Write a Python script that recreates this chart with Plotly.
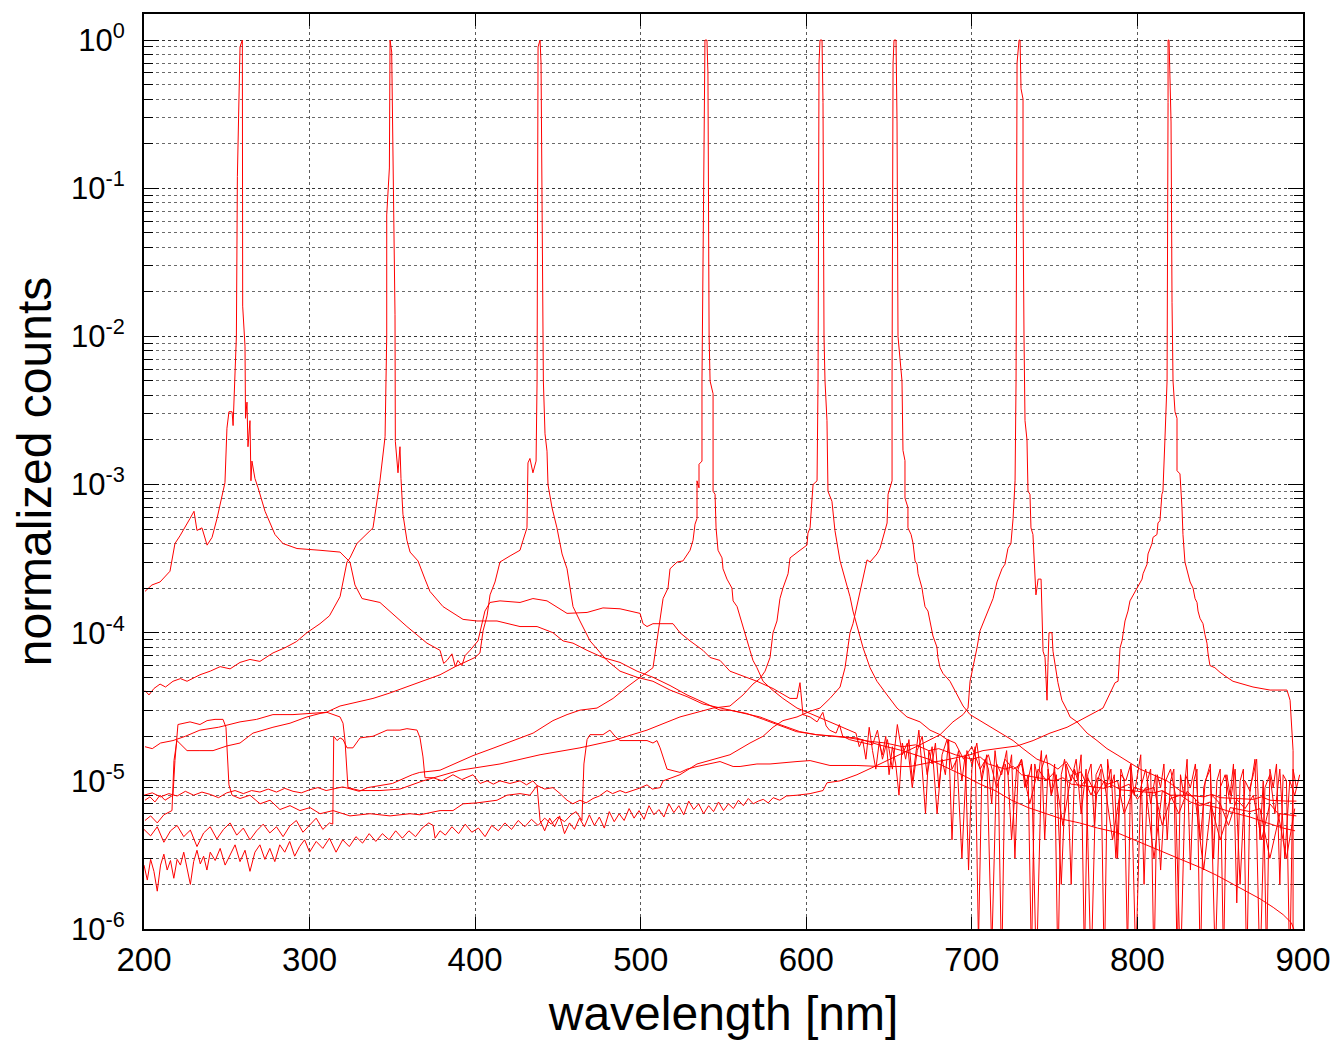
import math
import plotly.graph_objects as go

# ---------------- data (wavelength in nm, normalized counts) ----------------
s1_main = [(200.6,1.9e-4),(204.8,2.1e-4),(209.7,2.2e-4),(215.7,2.6e-4),(218.7,4.0e-4),(221.7,4.5e-4),
    (227.8,5.9e-4),(230.2,6.6e-4),(232.0,4.9e-4),(235.0,5.1e-4),(238.1,3.9e-4),(241.1,4.4e-4),(244.1,5.9e-4),
    (247.1,8.6e-4),(248.9,1.03e-3),(250.1,2.4e-3),(251.3,3.1e-3),(253.2,3.1e-3),(253.8,2.5e-3),(255.8,1.0e-2),
    (256.4,0.12),(258.0,0.9),(259.4,1.0),(259.6,0.016),(261.0,8.6e-3),(261.3,2.8e-3),(262.2,3.6e-3),(262.8,1.8e-3),
    (264.0,2.7e-3),(264.6,1.06e-3),(265.2,1.44e-3),(267.0,1.1e-3),(268.9,9.5e-4),(273.1,6.6e-4),(279.1,4.6e-4),
    (283.9,4.0e-4),(292.4,3.7e-4),(306.3,3.6e-4),(318.4,3.5e-4),(324.4,3.0e-4),(327.4,2.1e-4),(331.7,1.7e-4),
    (342.5,1.6e-4),(358.8,1.1e-4),(370.9,8.5e-5),(378.8,7.6e-5),(381.0,6.2e-5),(383.0,6.5e-5),(386.0,7.2e-5),
    (388.0,5.9e-5),(389.6,6.5e-5),(392.0,6.0e-5),(393.9,7.0e-5),(396.9,7.6e-5),(401.7,8.8e-5),(405.9,1.4e-4),
    (409.0,1.6e-4),(415.0,1.64e-4),(427.1,1.6e-4),(434.9,1.7e-4),(443.4,1.64e-4),(455.5,1.35e-4),(467.6,1.37e-4),
    (477.2,1.47e-4),(487.5,1.45e-4),(499.6,1.35e-4),(501.4,1.15e-4),(503.8,1.1e-4),(507.4,1.15e-4),(519.5,1.15e-4),
    (523.7,1.0e-4),(529.8,8.8e-5),(537.6,7.6e-5),(541.9,6.8e-5),(547.9,6.5e-5),(553.9,5.5e-5),(560.0,5.2e-5),
    (570.2,4.7e-5),(579.9,4.2e-5),(590.2,3.6e-5),(594.4,3.6e-5),(596.2,4.6e-5),(598.0,2.8e-5),(602.3,2.7e-5),
    (606.5,2.5e-5),(610.0,2.9e-5),(612.0,2.35e-5),(614.0,2.2e-5),(618.0,2.1e-5),(620.0,2.4e-5),(622.0,2.0e-5),
    (626.0,1.9e-5),(630.0,1.85e-5)]
s1_tail_nm = list(range(640, 900, 3))
s1_tail_val = [1.75e-5,2.2e-5,1.4e-5,1.9e-5,1.2e-5,2.4e-5,1.5e-5,1.8e-5,9e-6,1.6e-5,
    2.0e-5,1.1e-5,1.7e-5,6e-6,1.5e-5,1.9e-5,1.2e-5,1.4e-5,3e-6,1.6e-5,
    1.3e-5,1.8e-5,1.0e-5,1.5e-5,7e-7,1.3e-5,1.1e-5,1.6e-5,4e-6,1.2e-5,
    1.4e-5,9e-6,1.3e-5,5e-7,1.2e-5,1.5e-5,8e-6,1.1e-5,2e-6,1.3e-5,
    1.0e-5,1.4e-5,6e-6,1.2e-5,5e-7,1.1e-5,1.3e-5,9e-6,1.2e-5,3e-6,
    1.1e-5,1.0e-5,1.3e-5,6e-7,9e-6,1.2e-5,7e-6,1.1e-5,2.5e-6,1.0e-5,
    1.2e-5,8e-6,5e-7,1.1e-5,9e-6,1.3e-5,4e-6,1.0e-5,1.2e-5,6e-7,
    9e-6,1.1e-5,7e-6,1.2e-5,2e-6,1.0e-5,8.5e-6,1.4e-5,5e-7,9e-6,
    1.1e-5,6e-6,1.2e-5,3e-6,1.0e-5,8e-6,1.1e-5]

s2_main = [(200.6,4.07e-5),(203,3.8e-5),(206,4.2e-5),(209.7,4.5e-5),(213,4.3e-5),(217.5,4.7e-5),(222,4.9e-5),
    (226,4.7e-5),(233.8,5.2e-5),(240,5.5e-5),(246,5.9e-5),(252,5.7e-5),(258,6.3e-5),(264,6.6e-5),(270,6.4e-5),
    (277.9,7.3e-5),(285,7.9e-5),(292,8.7e-5),(298.4,1.0e-4),(306.3,1.15e-4),(312,1.3e-4),(318.4,1.75e-4),
    (322.6,3.0e-4),(324.4,3.2e-4),(328.6,4.0e-4),(334,4.6e-4),(338.3,5.1e-4),(342.5,1.06e-3),(345.6,2.1e-3),
    (346.6,1.0e-2),(346.6,0.066),(348.2,0.137),(348.6,1.0),(349.6,0.83),(351.6,1.4e-2),(351.8,1.96e-3),
    (353.4,1.2e-3),(354.6,1.8e-3),(355.2,1.1e-3),(356.4,6.3e-4),(358.8,4.2e-4),(360.7,3.5e-4),(365.5,3.05e-4),
    (369.7,2.3e-4),(372.7,1.9e-4),(380.6,1.5e-4),(392.7,1.23e-4),(401.1,1.2e-4),(413.2,1.2e-4),(427.1,1.1e-4),
    (437.4,1.1e-4),(447.0,1.0e-4),(453.1,8.8e-5),(459.1,8.5e-5),(467.6,7.6e-5),(477.2,6.8e-5),(487.5,6.3e-5),
    (497.8,5.5e-5),(507.4,5.0e-5),(517.7,4.4e-5),(528.0,3.8e-5),(537.6,3.4e-5),(547.9,3.0e-5),(554,3.0e-5),
    (564,2.85e-5),(574,2.6e-5),(584,2.35e-5),(594,2.15e-5),(606,2.05e-5),(620,2.0e-5),(630,1.95e-5),
    (644,1.75e-5),(658,1.6e-5),(674,1.4e-5),(694,1.1e-5),(705,9.5e-6),(714,8.6e-6),(724,7.4e-6),(734,6.6e-6),
    (745,6.0e-6),(755,5.5e-6),(765,5.2e-6),(776,4.8e-6),(787,4.5e-6),(798,4.0e-6),(808,3.6e-6),(818,3.2e-6),
    (828,2.9e-6),(838,2.6e-6),(848,2.3e-6),(858,2.0e-6),(866,1.8e-6),(874,1.6e-6),(882,1.4e-6),(888,1.25e-6),
    (893,1.1e-6),(896,9e-7)]

s3_main = [(200.6,1.7e-5),(205,1.65e-5),(210,1.8e-5),(217.5,1.87e-5),(225,2.0e-5),(233.8,2.2e-5),(245,2.3e-5),
    (258,2.5e-5),(268,2.6e-5),(277.9,2.8e-5),(290,2.8e-5),(302.1,2.85e-5),(310,2.9e-5),(318.4,3.2e-5),
    (328,3.4e-5),(338.3,3.6e-5),(348,3.9e-5),(358.8,4.3e-5),(368,4.7e-5),(378.8,5.2e-5),(388,5.9e-5),
    (393.9,6.3e-5),(399.9,6.8e-5),(402.9,7.3e-5),(404.8,1.03e-4),(407.2,1.3e-4),(409.0,1.8e-4),(412.0,2.2e-4),
    (415.0,3.0e-4),(421.1,3.3e-4),(427.1,3.6e-4),(428.9,4.2e-4),(431.3,5.1e-4),(431.9,1.4e-3),(433.1,1.5e-3),
    (434.9,1.2e-3),(436.8,1.44e-3),(437.4,5e-3),(438.0,0.9),(439.2,1.0),(439.8,0.7),(441.0,1.0e-2),(441.2,5e-3),
    (442.2,2.2e-3),(443.4,1.68e-3),(444.0,1.0e-3),(446.4,7.0e-4),(449.4,5.1e-4),(452.5,3.4e-4),(455.5,2.7e-4),
    (457.3,2.0e-4),(459.1,1.5e-4),(463.3,1.2e-4),(469.4,8.8e-5),(479.6,6.5e-5),(487.5,5.5e-5),(497.8,5.0e-5),
    (507.4,4.7e-5),(517.7,4.1e-5),(528.0,3.7e-5),(537.6,3.3e-5),(547.9,3.1e-5),(556,2.95e-5),(560,2.9e-5),
    (572,2.7e-5),(584,2.4e-5),(596,2.15e-5),(606,2.05e-5),(614,2.0e-5),(626,1.95e-5),(638,1.85e-5),(648,1.8e-5),
    (658,1.7e-5),(666,1.75e-5),(674,1.6e-5),(680,1.65e-5),(690,1.5e-5),(700,1.4e-5),(705,1.45e-5),(710,1.3e-5),
    (720,1.2e-5),(725,1.25e-5),(730,1.1e-5),(740,1.05e-5),(750,1.0e-5),(755,1.05e-5),(760,9.5e-6),(770,9.2e-6),
    (780,8.9e-6),(785,9.3e-6),(790,8.7e-6),(800,8.5e-6),(810,8.3e-6),(815,8.6e-6),(820,8.0e-6),(830,8.0e-6),
    (840,7.8e-6),(845,8.1e-6),(850,7.7e-6),(860,7.6e-6),(870,7.5e-6),(875,7.8e-6),(880,7.4e-6),(890,7.3e-6),
    (896,7.3e-6)]

s4_left_nm = list(range(200, 355, 5))
s4_left_val = [8.0e-6,8.3e-6,7.8e-6,8.2e-6,7.9e-6,8.5e-6,8.0e-6,8.4e-6,8.1e-6,7.7e-6,8.3e-6,8.6e-6,8.2e-6,
    8.6e-6,8.4e-6,8.8e-6,8.4e-6,8.9e-6,8.5e-6,8.3e-6,8.7e-6,9.0e-6,8.6e-6,8.9e-6,9.1e-6,8.8e-6,8.5e-6,9.0e-6,
    9.2e-6,9.4e-6,9.6e-6]
s4_main = [(362,1.1e-5),(366.5,1.14e-5),(378.8,1.18e-5),(390.9,1.35e-5),(398.7,1.48e-5),(410.8,1.66e-5),
    (422.9,1.87e-5),(435.0,2.1e-5),(447.0,2.55e-5),(455.5,2.8e-5),(463.3,3.0e-5),(473.6,3.1e-5),(483.3,3.6e-5),
    (491.7,4.3e-5),(499.6,5.0e-5),(507.4,5.8e-5),(509.8,8.8e-5),(511.7,1.28e-4),(513.5,1.7e-4),(516.5,2.0e-4),
    (517.7,2.7e-4),(522.0,3.0e-4),(525.5,3.05e-4),(529.8,3.6e-4),(531.6,4.2e-4),(532.8,5.4e-4),(534.0,5.9e-4),
    (534.0,1.06e-3),(535.2,9.5e-4),(535.2,1.37e-3),(537.0,1.44e-3),(537.0,5.0e-3),(538.2,0.38),(538.8,1.0),
    (540.0,1.0),(540.6,0.6),(541.3,0.01),(541.9,5.0e-3),(543.7,4.1e-3),(543.7,9.0e-4),(544.9,8.6e-4),
    (545.5,5.1e-4),(546.7,3.6e-4),(549.1,3.2e-4),(549.7,2.7e-4),(552.1,2.3e-4),(555.1,2.0e-4),(555.8,1.64e-4),
    (558.2,1.5e-4),(560.0,1.27e-4),(561.8,1.1e-4),(564.2,8.8e-5),(566.0,7.6e-5),(567.8,6.5e-5),(570.2,5.8e-5),
    (573.9,4.7e-5),(579.9,4.07e-5),(585.9,3.6e-5),(594.4,3.1e-5),(602.3,2.85e-5),(614.3,2.5e-5),(626.4,2.2e-5)]
s4_tail_nm = list(range(630, 898, 2))
s4_tail_val = [2.1e-5,1.7e-5,1.9e-5,1.4e-5,2.3e-5,1.6e-5,1.2e-5,1.8e-5,1.5e-5,2.0e-5,
    1.1e-5,1.7e-5,1.3e-5,8e-6,1.8e-5,1.4e-5,1.9e-5,1.0e-5,1.5e-5,2.2e-5,
    1.2e-5,6e-6,1.6e-5,1.3e-5,1.8e-5,9e-6,1.4e-5,1.1e-5,1.9e-5,4e-6,
    1.3e-5,1.6e-5,1.0e-5,1.5e-5,2.5e-6,1.2e-5,1.7e-5,8e-7,1.1e-5,1.4e-5,
    1.2e-5,7e-6,1.6e-5,1.0e-5,5e-7,1.3e-5,1.1e-5,1.5e-5,3e-6,1.2e-5,
    1.4e-5,9e-6,1.1e-5,6e-7,1.3e-5,1.0e-5,1.6e-5,4e-6,1.2e-5,8e-6,
    1.3e-5,5e-7,1.1e-5,1.4e-5,9e-6,2e-6,1.2e-5,1.0e-5,1.5e-5,6e-7,
    1.1e-5,1.3e-5,5e-6,1.0e-5,1.2e-5,5e-7,1.4e-5,9e-6,1.1e-5,3e-6,
    1.2e-5,1.0e-5,7e-7,1.3e-5,8e-6,1.1e-5,1.5e-5,2e-6,1.0e-5,1.2e-5,
    5e-7,1.1e-5,9e-6,1.3e-5,4e-6,1.0e-5,1.2e-5,6e-7,1.1e-5,8e-6,
    1.4e-5,2.5e-6,1.0e-5,1.2e-5,5e-7,9e-6,1.1e-5,1.3e-5,3e-6,1.0e-5,
    1.2e-5,6e-7,1.1e-5,8e-6,1.3e-5,1.5e-6,1.0e-5,1.2e-5,5e-7,9e-6,
    1.1e-5,1.4e-5,4e-6,1.0e-5,6e-7,1.2e-5,9e-6,1.3e-5,2e-6,1.1e-5,
    1.0e-5,5e-7,1.2e-5,9e-6]

s5_main = [(200.6,5.4e-6),(204,5.8e-6),(208,5.2e-6),(212,5.9e-6),(216.9,6.3e-6),(218.1,1.37e-5),(219.9,1.87e-5),
    (226.0,1.6e-5),(233.8,1.6e-5),(241.7,1.6e-5),(250.1,1.72e-5),(258.0,1.8e-5),(265.8,2.1e-5),(277.9,2.3e-5),
    (288.2,2.45e-5),(298.4,2.7e-5),(306.3,2.85e-5),(310.5,2.9e-5),(318.4,2.7e-5),(320.2,2.45e-5),(321.4,1.87e-5),
    (323.2,9.0e-6),(330.5,8.6e-6),(342.5,8.6e-6),(354.6,8.8e-6),(368.5,1.0e-5),(390.9,1.18e-5),(415.0,1.3e-5),
    (439.2,1.5e-5),(463.3,1.67e-5),(483.3,1.87e-5),(503.8,2.2e-5),(523.7,2.7e-5),(543.7,3.1e-5),(553.9,3.2e-5),
    (561.8,3.8e-5),(567.8,4.5e-5),(572.0,4.9e-5),(575.1,5.5e-5),(578.1,6.8e-5),(579.9,1.0e-4),(582.3,1.2e-4),
    (584.1,1.7e-4),(585.9,2.0e-4),(589.0,2.5e-4),(590.2,3.2e-4),(596.2,3.6e-4),(600.4,3.9e-4),(601.0,4.7e-4),
    (602.3,5.1e-4),(603.5,8.1e-4),(604.1,1.0e-3),(606.5,1.06e-3),(607.1,5e-3),(607.7,0.7),(608.3,1.0),
    (609.5,1.0),(610.1,0.38),(610.7,0.01),(611.3,5e-3),(612.5,2.7e-3),(613.1,9e-4),(615.5,7.7e-4),(617.3,4.9e-4),
    (620.4,3.05e-4),(623.4,2.3e-4),(626.4,1.75e-4),(628.2,1.4e-4),(630.6,1.1e-4),(634.3,7.9e-5),(638.5,5.8e-5),
    (642.7,4.7e-5),(648.8,3.8e-5),(654.8,3.1e-5),(660.8,2.7e-5),(668.7,2.5e-5),(674.7,2.2e-5),(680.8,2.05e-5)]
s5_tail_nm = list(range(685, 900, 5))
s5_tail_val = [1.9e-5,1.8e-5,1.4e-5,1.7e-5,1.2e-5,1.5e-5,9e-6,1.4e-5,1.2e-5,1.3e-5,
    7e-6,1.2e-5,1.0e-5,1.15e-5,5e-6,1.1e-5,9e-6,1.05e-5,8e-6,1.0e-5,
    4e-6,9e-6,9.5e-6,7.5e-6,9e-6,3e-6,8.5e-6,8e-6,6e-6,8.5e-6,
    7.5e-6,2.5e-6,8e-6,7e-6,5e-6,7.5e-6,6.5e-6,8e-6,4e-6,7e-6,
    6e-6,3e-6,6.5e-6]

s6_left_nm = [200,204,208,212,216,220,224,228,232,236,240,244,248,252,256,260,264,268,272,276,280,284,288,292,
    296,300,304,308,312,314]
s6_left_val = [4.7e-6,4.25e-6,4.9e-6,3.85e-6,4.6e-6,5.0e-6,4.2e-6,4.65e-6,3.6e-6,4.45e-6,4.9e-6,4.05e-6,4.7e-6,
    5.2e-6,4.3e-6,4.8e-6,4.0e-6,4.6e-6,5.1e-6,4.45e-6,4.9e-6,4.2e-6,4.95e-6,5.4e-6,4.5e-6,5.0e-6,5.6e-6,4.7e-6,
    5.2e-6,5.1e-6]
s6_main = [(314.6,2.0e-5),(316.6,1.87e-5),(318.4,1.95e-5),(320.2,1.9e-5),(322.6,1.67e-5),(326.2,1.67e-5),
    (330.5,1.95e-5),(338.3,2.0e-5),(346.8,2.2e-5),(354.6,2.2e-5),(358.8,2.25e-5),(364.9,2.2e-5),(366.7,1.95e-5),
    (368.5,1.45e-5),(369.7,1.05e-5),(374.6,1.05e-5),(380,1.0e-5),(386.6,1.1e-5),(392,1.02e-5),(398.7,1.1e-5),
    (403,9.6e-6),(407.2,1.0e-5),(411,9.5e-6),(415.0,1.0e-5),(421,9.6e-6),(427.1,1.0e-5),(431,9.4e-6),
    (434.9,1.0e-5),(437.4,9.3e-6),(442,8.8e-6),(447.0,9.0e-6),(451.3,8.2e-6),(455.5,7.4e-6),(459,7.0e-6),
    (463.3,7.4e-6),(467,7.1e-6),(471.2,7.6e-6),(475,7.9e-6),(479.6,8.6e-6),(483,8.2e-6),(487.5,8.6e-6),
    (491,8.3e-6),(495.4,8.6e-6),(499,8.9e-6),(503.8,9.4e-6),(507,8.8e-6),(511.7,9.0e-6),(513.5,1.0e-5),
    (523.7,1.1e-5),(534.0,1.3e-5),(553.9,1.5e-5),(566.0,1.8e-5),(573.9,2.0e-5),(579.9,2.3e-5),(585.9,2.55e-5),
    (594.4,2.7e-5),(602.3,2.95e-5),(608.3,3.1e-5),(614.3,3.6e-5),(620.4,4.3e-5),(623.4,5.8e-5),(624.6,7.3e-5),
    (626.4,1.0e-4),(628.2,1.15e-4),(631.2,1.64e-4),(634.3,2.25e-4),(635.5,2.7e-4),(636.7,3.1e-4),(638.5,3.0e-4),
    (642.7,3.4e-4),(644.5,3.7e-4),(646.3,4.3e-4),(648.8,5.5e-4),(649.4,8.6e-4),(651.8,1.06e-3),(651.8,5e-3),
    (652.4,0.7),(653.0,1.0),(654.2,1.0),(654.8,0.28),(655.4,0.01),(657.8,5e-3),(658.4,1.7e-3),(659.6,1.45e-3),
    (659.6,8.1e-4),(661.4,7.0e-4),(661.4,5.1e-4),(663.3,4.6e-4),(664.5,4.0e-4),(665.7,3.05e-4),(666.9,2.9e-4),
    (667.5,2.5e-4),(668.7,2.25e-4),(669.9,2.0e-4),(670.5,1.8e-4),(671.7,1.5e-4),(673.5,1.4e-4),(674.7,1.2e-4),
    (675.9,1.0e-4),(676.5,9.5e-5),(678.9,8.0e-5),(679.5,6.8e-5),(680.8,5.8e-5),(682.6,5.3e-5),(686.8,4.7e-5),
    (691.0,3.8e-5),(694.7,3.2e-5),(698.9,2.8e-5),(704.9,2.55e-5),(711.0,2.3e-5),(717.0,2.1e-5),(724.9,1.87e-5),
    (730.9,1.65e-5),(739.3,1.4e-5),(747.2,1.3e-5),(752,1.2e-5),(757,1.35e-5),(762,1.1e-5),(766,1.15e-5),
    (772,8e-6),(776,1.05e-5),(782,9.5e-6),(788,1.0e-5),(792,6e-6),(798,9e-6),(804,8.6e-6),(810,9e-6),(815,5e-6),
    (820,7.6e-6),(826,8e-6),(832,7.2e-6),(838,6.8e-6),(844,7.2e-6),(850,4e-6),(856,6.6e-6),(862,6.4e-6),
    (868,6.2e-6),(874,6.5e-6),(880,3e-6),(886,6.0e-6),(892,5.9e-6),(896,5.8e-6)]

s7_main = [(200.6,7.4e-6),(203.6,7.8e-6),(206.6,7.2e-6),(209.7,8.0e-6),(212.7,7.4e-6),(215.7,7.8e-6),
    (217.5,8.0e-6),(218.7,1.37e-5),(220.5,2.4e-5),(227.8,2.5e-5),(233.8,2.4e-5),(238.1,2.55e-5),(242.9,2.6e-5),
    (247.7,2.6e-5),(249.5,2.3e-5),(251.3,9.4e-6),(253.2,8.0e-6),(258.0,7.6e-6),(264.0,8.0e-6),(270.1,7.0e-6),
    (276.1,7.4e-6),(282.1,6.4e-6),(288.2,6.8e-6),(294.2,6.3e-6),(300.3,6.6e-6),(306.3,6.0e-6),(314.2,6.3e-6),
    (324.4,5.8e-6),(336.5,6.0e-6),(348.6,5.8e-6),(360.7,6.0e-6),(366.7,5.9e-6),(378.8,6.3e-6),(386.6,6.3e-6),
    (392.7,7.0e-6),(401.1,7.1e-6),(413.2,7.4e-6),(419.2,8.0e-6),(427.1,8.2e-6),(433.1,8.0e-6),(436.2,9.0e-6),
    (437.4,9.3e-6),(439.2,5.4e-6),(442,4.6e-6),(445,5.6e-6),(448,4.9e-6),(451,5.8e-6),(454,4.4e-6),(457,5.2e-6),
    (460,4.7e-6),(463,5.6e-6),(466,4.9e-6),(469,5.9e-6),(472,5.0e-6),(475,5.7e-6),(478,4.8e-6),(481,6.2e-6),
    (484,5.3e-6),(487,6.0e-6),(490,5.4e-6),(493,6.5e-6),(496,5.6e-6),(499,6.3e-6),(502,5.5e-6),(505,6.8e-6),
    (508,5.9e-6),(511,6.4e-6),(514,5.7e-6),(517,7.0e-6),(520,6.1e-6),(523,6.8e-6),(526,5.9e-6),(529,7.3e-6),
    (532,6.4e-6),(535,7.0e-6),(538,6.0e-6),(541,6.8e-6),(544,6.2e-6),(547,7.2e-6),(550,6.3e-6),(553,7.0e-6),
    (556,6.5e-6),(559,7.4e-6),(562,6.8e-6),(565,7.6e-6),(568,7.0e-6),(571,7.3e-6),(574,7.5e-6),(577,7.1e-6),
    (580,7.7e-6),(584,7.4e-6),(588,7.9e-6),(594.4,8.0e-6),(602.3,8.2e-6),(610.1,8.6e-6),
    (612.5,9.7e-6),(620.4,1.0e-5),(630.6,1.1e-5),(644.5,1.3e-5),(656.6,1.5e-5),(668.7,1.75e-5),(680.8,2.05e-5),
    (688.6,2.5e-5),(694.7,2.8e-5),(697.7,3.1e-5),(698.9,4.7e-5),(700.7,5.8e-5),(703.1,7.9e-5),(704.9,1.03e-4),
    (709.2,1.35e-4),(712.8,1.7e-4),(715.2,2.2e-4),(718.2,2.7e-4),(720.0,2.9e-4),(721.8,3.7e-4),(723.6,4.0e-4),
    (724.9,5.9e-4),(726.1,1.06e-3),(726.7,5e-3),(727.3,0.7),(728.5,1.0),(729.1,1.0),(729.7,0.47),(730.9,0.4),
    (730.9,0.08),(731.5,0.01),(732.1,2.7e-3),(733.3,2.0e-3),(733.9,9e-4),(735.1,8.6e-4),(735.7,5.1e-4),
    (736.9,4.6e-4),(738.1,2.25e-4),(738.7,1.8e-4),(739.3,2.0e-4),(740.0,2.3e-4),(741.8,2.3e-4),(742.4,1.1e-4),
    (743.0,7.5e-5),(744.2,6.8e-5),(745.4,3.5e-5),(746.0,6.3e-5),(746.6,1.0e-4),(748.4,1.0e-4),(749.0,7.5e-5),
    (752.0,4.6e-5),(754.4,3.5e-5),(757.5,3.0e-5),(759.3,2.7e-5),(763.5,2.5e-5),(769.6,2.1e-5),(775.6,1.87e-5),
    (781.6,1.65e-5),(787.7,1.5e-5),(793.7,1.37e-5),(801.6,1.2e-5),(809.4,1.1e-5),(817.9,1.0e-5),(825.7,8.6e-6),
    (833.6,7.8e-6),(837.8,7.0e-6),(848.1,6.6e-6),(857.7,6.1e-6),(868.0,5.7e-6),(878.3,5.2e-6),(887.9,4.8e-6),
    (895.2,4.6e-6)]

s8_left_nm = [200,202,204,206,208,210,212,214,216,218,220,222,224,226,228,230,232,234,236,238,240,243,246,249,
    252,255,258,261,264,267,270,273,276,279,282,285,288,291,294,297,300,304,308,312,316,320,324,328,332,336,340,
    344,348,352,356,360,364,368,372]
s8_left_val = [2.7e-6,2.14e-6,2.95e-6,2.45e-6,1.8e-6,2.7e-6,3.2e-6,2.5e-6,2.9e-6,2.2e-6,2.95e-6,2.7e-6,3.3e-6,
    2.6e-6,2.0e-6,2.85e-6,3.4e-6,2.75e-6,3.1e-6,2.5e-6,3.3e-6,2.9e-6,3.5e-6,2.7e-6,3.2e-6,3.7e-6,2.85e-6,3.4e-6,
    2.45e-6,3.3e-6,3.7e-6,2.95e-6,3.5e-6,2.85e-6,3.7e-6,3.3e-6,3.9e-6,3.1e-6,3.6e-6,4.0e-6,3.3e-6,3.9e-6,3.5e-6,
    4.1e-6,3.3e-6,4.0e-6,3.6e-6,4.2e-6,3.8e-6,4.4e-6,3.9e-6,4.4e-6,4.0e-6,4.6e-6,4.1e-6,4.6e-6,4.2e-6,4.8e-6,
    5.2e-6]
s8_main = [(374.6,5.0e-6),(375.8,4.1e-6),(378.8,4.6e-6),(382,4.3e-6),(386,4.9e-6),(390,4.4e-6),(394,5.1e-6),
    (398,4.5e-6),(402,4.8e-6),(406,4.2e-6),(410,5.0e-6),(414,4.6e-6),(418,5.2e-6),(422,4.7e-6),(426,5.4e-6),
    (430,4.9e-6),(434,5.5e-6),(438,5.0e-6),(442,5.6e-6),(446,5.1e-6),(450,5.7e-6),(454,5.3e-6),(458,5.9e-6),
    (461,6.2e-6),(464.5,5.4e-6),(465.7,1.3e-5),(467.6,1.9e-5),(469.4,2.05e-5),(477.2,2.05e-5),(481.4,2.2e-5),
    (484.5,2.0e-5),(487.5,1.87e-5),(495.4,1.87e-5),(503.8,1.87e-5),(507.4,1.8e-5),(509.8,1.87e-5),(511.7,1.67e-5),
    (515.9,1.2e-5),(523.7,1.14e-5),(528.0,1.2e-5),(534.0,1.25e-5),(541.9,1.3e-5),(547.9,1.35e-5),(555.8,1.25e-5),
    (560.0,1.25e-5),(570.2,1.3e-5),(578.1,1.3e-5),(594.4,1.35e-5),(602.3,1.37e-5),(614.3,1.27e-5),(630.6,1.27e-5),
    (644.5,1.25e-5),(662.6,1.25e-5),(674.7,1.33e-5),(682.6,1.37e-5),(698.9,1.5e-5),(706.7,1.6e-5),(715.2,1.65e-5),
    (727.3,1.72e-5),(737.0,1.87e-5),(747.2,2.1e-5),(757.5,2.3e-5),(769.6,2.7e-5),(779.2,3.1e-5),(786.5,4.6e-5),
    (788.3,4.7e-5),(789.5,7.9e-5),(790.7,8.8e-5),(792.5,1.2e-4),(794.3,1.4e-4),(795.5,1.64e-4),(798.6,1.9e-4),
    (800.4,2.1e-4),(802.8,2.3e-4),(803.4,2.5e-4),(805.8,2.9e-4),(806.4,3.4e-4),(808.8,4.0e-4),(809.4,4.4e-4),
    (811.8,4.6e-4),(812.4,5.5e-4),(813.6,5.7e-4),(814.8,8.6e-4),(815.4,9.0e-4),(816.6,2.0e-3),(817.9,5.0e-3),
    (818.5,0.38),(818.5,1.0),(819.1,1.0),(819.7,0.52),(820.3,0.28),(820.9,0.017),(821.5,5e-3),(822.7,3.1e-3),
    (823.9,2.8e-3),(823.9,1.24e-3),(825.7,1.18e-3),(826.9,7.0e-4),(827.5,4.6e-4),(828.7,3.0e-4),(830.6,2.5e-4),
    (831.8,2.2e-4),(833.6,2.0e-4),(834.8,1.7e-4),(836.0,1.6e-4),(836.6,1.4e-4),(837.8,1.25e-4),(839.6,1.15e-4),
    (840.8,9.7e-5),(842.0,8.5e-5),(842.6,7.3e-5),(843.8,6.0e-5),(846.8,5.8e-5),(849.9,5.4e-5),(854.1,5.0e-5),
    (857.7,4.7e-5),(869.8,4.3e-5),(880.1,4.1e-5),(890.3,4.1e-5),(892.2,3.5e-5),(894.0,1.6e-5),(894.0,5e-7)]

x_ticks = [200, 300, 400, 500, 600, 700, 800, 900]
y_ticks = [1e-6, 1e-5, 1e-4, 1e-3, 1e-2, 1e-1, 1e0]
y_ticktext = ["10<sup>-6</sup>", "10<sup>-5</sup>", "10<sup>-4</sup>", "10<sup>-3</sup>",
              "10<sup>-2</sup>", "10<sup>-1</sup>", "10<sup>0</sup>"]
x_range = [200, 900]
y_range = [1e-6, 1.5]

# ---------------- assemble series ----------------
s1 = s1_main + list(zip(s1_tail_nm, s1_tail_val))
s2 = s2_main
s3 = s3_main
s4 = list(zip(s4_left_nm, s4_left_val)) + s4_main + list(zip(s4_tail_nm, s4_tail_val))
s5 = s5_main + list(zip(s5_tail_nm, s5_tail_val))
s6 = list(zip(s6_left_nm, s6_left_val)) + s6_main
s7 = s7_main
s8 = list(zip(s8_left_nm, s8_left_val)) + s8_main
spectra = [s1, s2, s3, s4, s5, s6, s7, s8]

fig = go.Figure()
for s in spectra:
    xs = [p[0] for p in s]
    ys = [p[1] for p in s]
    fig.add_trace(go.Scatter(x=xs, y=ys, mode="lines", line=dict(color="#ff0000", width=1),
                             showlegend=False, hoverinfo="skip"))

minor_vals = [d * 10.0 ** e for e in range(-6, 0) for d in range(2, 10)]

font_family = "Liberation Sans, Arial, Helvetica, sans-serif"
# the page body has an 8px default margin, so margins are reduced to keep the plot box in place
fig.update_layout(
    width=1338, height=1041,
    margin=dict(l=136, r=43, t=4, b=120),
    paper_bgcolor="white", plot_bgcolor="white",
    showlegend=False,
    font=dict(family=font_family, color="black"),
)
fig.update_xaxes(
    range=x_range, tickmode="array", tickvals=x_ticks,
    ticks="inside", ticklen=12, tickwidth=1, tickcolor="black",
    showline=True, linecolor="black", linewidth=2, mirror="allticks",
    showgrid=True, gridcolor="#5a5a5a", gridwidth=1, griddash="dot",
    zeroline=False, tickfont=dict(size=33, family=font_family),
    title=dict(text="wavelength [nm]", font=dict(size=48, family=font_family), standoff=20),
)
fig.update_yaxes(
    type="log", range=[math.log10(y_range[0]), math.log10(y_range[1])],
    tickmode="array", tickvals=y_ticks, ticktext=y_ticktext,
    ticks="inside", ticklen=15, tickwidth=1, tickcolor="black",
    showline=True, linecolor="black", linewidth=2, mirror="allticks",
    showgrid=True, gridcolor="#333333", gridwidth=1, griddash="dot",
    zeroline=False, tickfont=dict(size=31, family=font_family), ticklabelstandoff=11,
    minor=dict(tickmode="array", tickvals=minor_vals, ticks="inside", ticklen=9, tickcolor="black",
               showgrid=True, gridcolor="#6a6a6a", gridwidth=1, griddash="dot"),
    title=dict(text="normalized counts", font=dict(size=48, family=font_family), standoff=12),
)

fig.write_html("out.html")
